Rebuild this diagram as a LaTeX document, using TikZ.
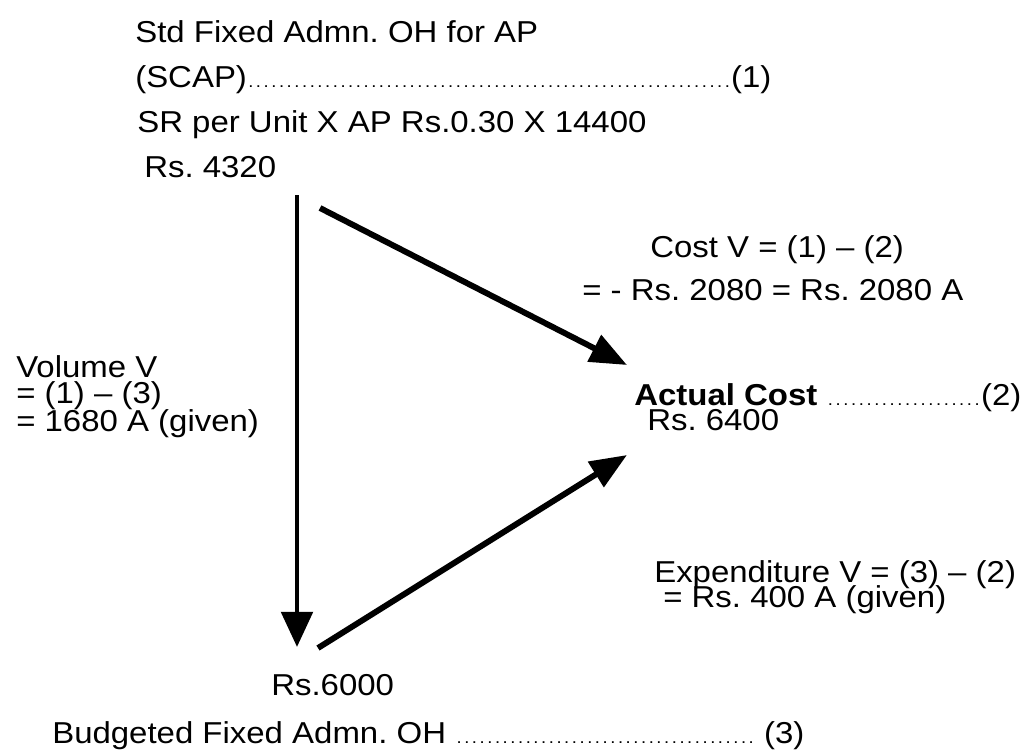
\documentclass[tikz,border=0pt]{standalone}
\usepackage{fontspec}
\setmainfont[FakeStretch=1.09]{Liberation Sans}
\usetikzlibrary{arrows.meta}

\newcommand{\dotrow}[3]{\hbox to #1{#2\xleaders\hbox to 0.19cm{\hss\fontsize{12}{12}\selectfont.\hss}\hfill#3}}

\begin{document}
\frenchspacing
\begin{tikzpicture}[
    x=0.025cm, y=-0.025cm,
    every node/.style={font=\fontsize{21.5}{26}\selectfont},
    txt/.style={anchor=base west, inner sep=0pt},
    vflow/.style={line width=3.5pt, -{Triangle[length=0.88cm, width=0.78cm]}},
    dflow/.style={line width=4.2pt, -{Triangle[length=0.92cm, width=0.72cm]}}
]
\useasboundingbox (0,0) rectangle (1025,751);

% standard cost (1)
\node[txt] (std1) at (135,42) {Std Fixed Admn. OH for AP};
\node[txt] (std2) at (135,87) {\dotrow{15.9cm}{(SCAP)}{(1)}};
\node[txt] (std3) at (137,132) {SR per Unit X AP Rs.0.30 X 14400};
\node[txt] (std4) at (144,177) {Rs. 4320};

% actual cost (2)
\node[txt] (act1) at (634,405) {\dotrow{9.675cm}{\textbf{Actual Cost} }{(2)}};
\node[txt] (act2) at (647,430) {Rs. 6400};

% budgeted (3)
\node[txt] (bud1) at (271,695) {Rs.6000};
\node[txt] (bud2) at (52,743) {\dotrow{18.8cm}{Budgeted Fixed Admn. OH }{ (3)}};

% variances
\node[txt] (cost1) at (650,257) {Cost V = (1) – (2)};
\node[txt] (cost2) at (582,300) {= - Rs. 2080 = Rs. 2080 A};
\node[txt] (vol1) at (16,377) {Volume V};
\node[txt] (vol2) at (16,403) {= (1) – (3)};
\node[txt] (vol3) at (16,431) {= 1680 A (given)};
\node[txt] (exp1) at (654,582) {Expenditure V = (3) – (2)};
\node[txt] (exp2) at (663,607) {= Rs. 400 A (given)};

% triangle corners
\coordinate (stdtop) at (297,195);
\coordinate (stdside) at (320,208);
\coordinate (budtip) at (297,647);
\coordinate (budside) at (318,648);
\coordinate (acttop) at (627,365);
\coordinate (actbot) at (627,455);

\draw[vflow] (stdtop) -- (budtip);
\draw[dflow] (stdside) -- (acttop);
\draw[dflow] (budside) -- (actbot);

\end{tikzpicture}
\end{document}
